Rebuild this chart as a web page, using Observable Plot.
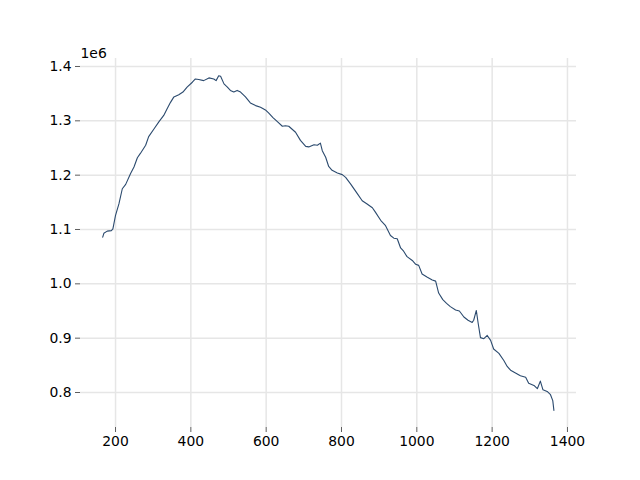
<!DOCTYPE html>
<html>
<head>
<meta charset="utf-8">
<script src="https://cdn.jsdelivr.net/npm/d3@7"></script>
<script src="https://cdn.jsdelivr.net/npm/@observablehq/plot@0.6"></script>
<style>
  html, body { margin: 0; padding: 0; background: #fff; }
</style>
</head>
<body>
<div id="chart"></div>
<script>
const xs = [166,169,178,189,193,200,209,218,227,240,249,258,266,280,288,302,315,328,337,346,355,368,379,390,404,412,421,434,448,461,467,474,479,488,497,505,514,523,532,545,558,572,585,598,607,618,629,643,651,660,678,691,705,713,727,736,744,749,758,766,775,789,802,811,824,842,855,868,882,890,904,917,930,939,948,957,965,974,988,997,1005,1014,1028,1041,1050,1058,1069,1079,1089,1103,1113,1125,1136,1147,1151,1158,1163,1169,1178,1187,1196,1204,1218,1231,1240,1249,1262,1275,1289,1297,1311,1320,1328,1335,1346,1355,1361,1364];
const ys = [1086000,1093000,1097000,1098000,1101000,1126000,1147000,1175000,1183000,1203000,1215000,1232000,1240000,1255000,1271000,1285000,1298000,1310000,1322000,1334000,1344000,1348000,1353000,1362000,1371000,1377000,1376000,1374000,1379000,1377000,1374000,1383000,1382000,1368000,1362000,1356000,1353000,1356000,1353000,1344000,1333000,1328000,1325000,1320000,1314000,1306000,1299000,1290000,1291000,1290000,1279000,1264000,1253000,1252000,1256000,1255000,1259000,1245000,1233000,1216000,1209000,1204000,1201000,1196000,1184000,1166000,1153000,1147000,1140000,1132000,1117000,1107000,1089000,1084000,1083000,1066000,1060000,1050000,1043000,1036000,1034000,1018000,1012000,1007000,1005000,983000,971000,964000,958000,952000,950000,939000,933000,929000,933000,951000,927000,901000,899000,905000,896000,880000,872000,859000,848000,841000,836000,831000,828000,817000,813000,807000,821000,805000,802000,796000,785000,767000];
const xTicks = [200,400,600,800,1000,1200,1400];
const yTicks = [800000,900000,1000000,1100000,1200000,1300000,1400000];
const offsetLabel = "1e6";

const data = xs.map((x, i) => ({x, y: ys[i]}));

const chart = Plot.plot({
  width: 640,
  height: 480,
  marginLeft: 80,
  marginRight: 64,
  marginTop: 58,
  marginBottom: 53,
  style: {fontFamily: "DejaVu Sans", fontSize: "13.9px", color: "#000", background: "#fff"},
  x: {domain: [107, 1424], label: null},
  y: {domain: [735600, 1414700], label: null},
  marks: [
    Plot.gridX(xTicks, {stroke: "#e6e6e6", strokeOpacity: 1, strokeWidth: 1.5}),
    Plot.gridY(yTicks, {stroke: "#e6e6e6", strokeOpacity: 1, strokeWidth: 1.5}),
    Plot.axisX({ticks: xTicks, tickSize: 5, tickPadding: 4, label: null, stroke: "#333",
      strokeWidth: 0.8, fill: "#000", tickFormat: d => String(d)}),
    Plot.axisY({ticks: yTicks, tickSize: 5, tickPadding: 4, label: null, stroke: "#333",
      strokeWidth: 0.8, fill: "#000", tickFormat: d => (d / 1e6).toFixed(1)}),
    Plot.line(data, {x: "x", y: "y", stroke: "#2b4a6e", strokeWidth: 1.1}),
    Plot.text([offsetLabel], {frameAnchor: "top-left", text: d => d, dy: -10, dx: 0,
      textAnchor: "start", fontSize: 13.9, fill: "#000"})
  ]
});
document.getElementById("chart").appendChild(chart);
</script>
</body>
</html>
